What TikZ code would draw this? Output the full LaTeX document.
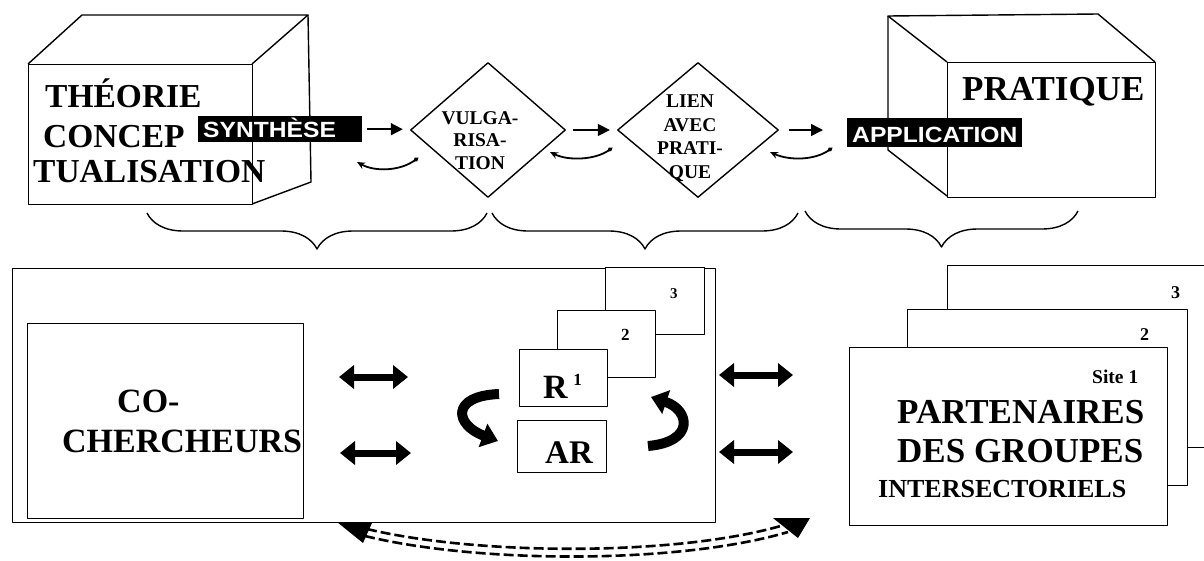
\documentclass[tikz,border=0pt]{standalone}
\usepackage{fontspec}
\setmainfont{Liberation Serif}
\newfontfamily\labsans[FakeStretch=1.12]{Liberation Sans}
\usetikzlibrary{arrows.meta,shapes.geometric,decorations.pathreplacing}
\begin{document}
\begin{tikzpicture}[x=1pt,y=-1pt,line join=round,
  face/.style={draw,line width=1.4pt,fill=white,inner sep=0pt,anchor=north west},
  ln/.style={line width=1.4pt},
  txt/.style={inner sep=0pt,anchor=base west,font=\bfseries\fontsize{#1}{#1}\selectfont},
  ctxt/.style={inner sep=0pt,align=center,font=\bfseries\fontsize{19}{23}\selectfont},
  lbl/.style={fill=black,inner sep=0pt,anchor=north west},
  wtxt/.style={text=white,inner sep=0pt,anchor=base west,font=\labsans\bfseries\fontsize{22}{22}\selectfont},
  arr/.style={line width=1.6pt,-{Triangle[length=12pt,width=12pt]}},
  curl/.style={line width=1.8pt,{Stealth[open,length=8pt,width=7pt]}-{Circle[open,length=5pt,width=4pt]}},
  dbl/.style={line width=7pt,{Triangle[length=15pt,width=23pt]}-{Triangle[length=15pt,width=23pt]}},
  turn/.style={line width=10pt,-{Triangle[length=16pt,width=24pt]}},
  brc/.style={line width=1.4pt,decorate,decoration={brace,mirror,amplitude=36pt,aspect=0.5}},
  dash2/.style={line width=2.6pt,dash pattern=on 10pt off 4pt},
  dia/.style={draw,line width=1.4pt,diamond,fill=white,inner sep=0pt}]
\useasboundingbox (0,0) rectangle (1204,560);
\clip (0,0) rectangle (1204,560);

% left cube
\draw[ln] (28,64) -- (82,15) -- (308,15) -- (252,64);
\draw[ln] (308,15) -- (311,182) -- (252,204);
\node[face,minimum width=224pt,minimum height=140pt] (theo) at (28,64) {};
\node[txt=33.5] (t1) at (45,107) {THÉORIE};
\node[txt=33.5] (t2) at (43,147) {CONCEP};
\node[txt=33.5] (t3) at (33,182) {TUALISATION};

% right cube
\draw[ln] (947,62) -- (888,16) -- (1098,14) -- (1155,62);
\draw[ln] (888,16) -- (888,150) -- (947,196);
\node[face,minimum width=208pt,minimum height=135pt] (prat) at (947,62) {};
\node[txt=35] (pt) at (962,100) {PRATIQUE};

% diamonds
\node[dia,minimum width=155pt,minimum height=135pt] (vulg) at (488,130) {};
\node[ctxt,font=\bfseries\fontsize{19.5}{22.5}\selectfont] (vulgt) at (480,140.5) {VULGA-\\RISA-\\TION};
\node[dia,minimum width=161pt,minimum height=135pt] (lien) at (698,130) {};
\node[ctxt,font=\bfseries\fontsize{19.5}{23.5}\selectfont] (lient) at (690,138) {LIEN\\AVEC\\PRATI-\\QUE};

% black labels
\node[lbl,minimum width=164pt,minimum height=26pt] (synb) at (198,116) {};
\node[wtxt] (syn) at (203,137) {SYNTHÈSE};
\node[lbl,minimum width=175pt,minimum height=29pt] (appb) at (847,118) {};
\node[wtxt] (app) at (852,142) {APPLICATION};

% arrows
\draw[arr,shorten <=5pt,shorten >=7pt] (synb.east) -- (synb.east -| vulg.west);
\draw[arr,shorten <=7pt,shorten >=7pt] (vulg.east) -- (lien.west);
\draw[arr,shorten <=10pt,shorten >=24pt] (lien.east) -- (lien.east -| appb.west);

% small curls
\coordinate (c1a) at (357,162); \coordinate (c1b) at (418,158);
\coordinate (c2a) at (550,152); \coordinate (c2b) at (612,148);
\coordinate (c3a) at (770,152); \coordinate (c3b) at (832,148);
\draw[curl] (c1a) .. controls (375,172) and (400,171) .. (c1b);
\draw[curl] (c2a) .. controls (568,161) and (595,160) .. (c2b);
\draw[curl] (c3a) .. controls (790,161) and (815,160) .. (c3b);

% braces
\draw[brc] (147,213) -- (487,213);
\draw[brc] (492,213) -- (798,213);
\draw[brc] (805,211) -- (1078,211);

% lower left
\node[face,minimum width=703pt,minimum height=254pt] (main) at (12,268) {};
\node[face,minimum width=276pt,minimum height=195pt] (coch) at (27,323) {};
\node[txt=34] (co1) at (117,412) {CO-};
\node[txt=34] (co2) at (62,452) {CHERCHEURS};

% stack
\node[face,minimum width=99pt,minimum height=67pt] (b3) at (605,267) {};
\node[face,minimum width=98pt,minimum height=67pt] (b2) at (557,310) {};
\node[face,minimum width=88pt,minimum height=57pt] (r1) at (519,349) {};
\node[face,minimum width=89pt,minimum height=52pt] (ar) at (517,420) {};
\node[txt=15] (n3) at (670,298) {3};
\node[txt=17] (n2) at (621,340) {2};
\node[txt=34] (rt) at (543,398) {R\,\raisebox{0.38em}{\fontsize{17}{17}\selectfont 1}};
\node[txt=33] (art) at (545,463) {AR};

% double arrows
\coordinate (l1a) at (339,377); \coordinate (l1b) at (408,377);
\coordinate (l2a) at (340,453); \coordinate (l2b) at (411,453);
\coordinate (r1a) at (719,375); \coordinate (r1b) at (793,375);
\coordinate (r2a) at (719,452); \coordinate (r2b) at (793,452);
\draw[dbl] (l1a) -- (l1b);
\draw[dbl] (l2a) -- (l2b);
\draw[dbl] (r1a) -- (r1b);
\draw[dbl] (r2a) -- (r2b);

% turning arrows
\draw[turn] (499,394) .. controls (450,396) and (455,425) .. (498,441);
\draw[turn] (648,446) .. controls (695,442) and (690,410) .. (651,397);

% right stack
\node[face,minimum width=300pt,minimum height=182pt] (rb3) at (947,265) {};
\node[face,minimum width=280pt,minimum height=176pt] (rb2) at (907,309) {};
\node[face,minimum width=318pt,minimum height=178pt] (site) at (849,347) {};
\node[txt=18] (m3) at (1171,298) {3};
\node[txt=18] (m2) at (1140,340) {2};
\node[txt=19.5] (s1) at (1092,383) {Site 1};
\node[txt=35] (p1) at (897,423) {PARTENAIRES};
\node[txt=35] (p2) at (897,462) {DES GROUPES};
\node[txt=26] (p3) at (878,497) {INTERSECTORIELS};

% dashed double arrow
\coordinate (dl) at (367,529);
\coordinate (dr) at (784,525);
\coordinate (dl2) at (365,536);
\coordinate (dr2) at (788,532);
\draw[dash2] (dl) .. controls (480,556) and (680,556) .. (dr);
\draw[dash2] (dl2) .. controls (480,564) and (680,564) .. (dr2);
\fill (337,522) -- (372,523) -- (363,543) -- cycle;
\fill (773,518) -- (810,518) -- (798,538) -- cycle;
\end{tikzpicture}
\end{document}
